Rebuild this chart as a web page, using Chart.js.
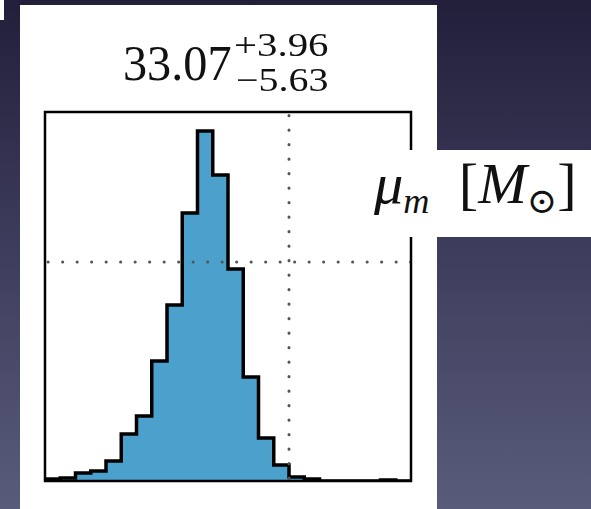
<!DOCTYPE html>
<html>
<head>
<meta charset="utf-8">
<script src="https://cdn.jsdelivr.net/npm/chart.js@4.4.1/dist/chart.umd.min.js"></script>
<style>
  html, body { margin: 0; padding: 0; }
  body {
    width: 591px; height: 509px; overflow: hidden; position: relative;
    background: linear-gradient(to bottom, #221f3b 0%, #3f3d5d 50%, #585c7a 100%);
    font-family: "Liberation Serif", "DejaVu Serif", serif;
  }
  .white { position: absolute; background: #fff; }
  .txt { position: absolute; white-space: nowrap; color: #111; line-height: 1; transform-origin: left top; }
  #lab i { font-style: italic; }
  .sub { font-size: 0.62em; position: relative; top: 0.28em; }
</style>
</head>
<body>
<div class="white" style="left:0;top:0;width:4px;height:20px"></div>
<div class="white" style="left:20px;top:5px;width:417px;height:504px"></div>

<div id="wrap" style="position:absolute;left:20px;top:5px;width:417px;height:504px">
  <canvas id="hist"></canvas>
</div>

<div class="txt" id="tMain" style="left:123px;top:38px;font-size:50px">33.07</div>
<div class="txt" id="tUp" style="left:234px;top:29px;font-size:33px">+3.96</div>
<div class="txt" id="tLo" style="left:236px;top:64px;font-size:33px">−5.63</div>

<div class="white" style="left:355px;top:150px;width:236px;height:87px"></div>
<div class="txt" id="lab" style="left:374px;top:155px;font-size:57px"><i>μ</i><span class="sub"><i>m</i></span>&nbsp;&nbsp;[<i>M</i><span class="sub">⊙</span>]</div>

<script>
// histogram of mu_m samples (bin edges in M_sun, counts)
const binEdges = [11.0, 13.1, 15.2, 17.3, 19.4, 21.5, 23.6, 25.7, 27.8, 29.9, 32.0, 34.1, 36.2,
                  38.3, 40.4, 42.5, 44.6, 46.7, 48.8, 50.9, 53.0, 55.1, 57.2, 59.3, 61.4];
const counts = [2, 3, 8, 10, 20, 47, 65, 120, 176, 268, 350, 306,
                212, 104, 43, 16, 4, 2, 0, 0, 0, 0, 1, 0];
const truthX = 44.6;
const truthY = 219;
const yMax = 369;

// stretch text so it covers the same width as the reference
function fit(id, w) {
    const el = document.getElementById(id);
    el.style.transform = "scaleX(" + (w / el.offsetWidth) + ")";
}
fit("tMain", 109);
fit("tUp", 94);
fit("tLo", 92);
fit("lab", 203);

const steps = [{ x: binEdges[0], y: 0 }];
counts.forEach((c, i) => steps.push({ x: binEdges[i], y: c }));
steps.push({ x: binEdges[binEdges.length - 1], y: counts[counts.length - 1] });

const xMin = binEdges[0], xMax = binEdges[binEdges.length - 1];

const frame = {
    id: "frame",
    afterDraw(chart) {
        const a = chart.chartArea, ctx = chart.ctx;
        ctx.save();
        ctx.strokeStyle = "#000";
        ctx.lineWidth = 2.5;
        ctx.strokeRect(a.left, a.top, a.right - a.left, a.bottom - a.top);
        ctx.restore();
    }
};

const dotted = {
    borderColor: "#555",
    borderWidth: 3,
    borderDash: [0.1, 14.4],
    borderCapStyle: "round",
    pointRadius: 0,
    fill: false,
    order: 1
};

new Chart(document.getElementById("hist"), {
    type: "line",
    data: {
        datasets: [
            Object.assign({ data: [{ x: truthX, y: 0 }, { x: truthX, y: yMax }] }, dotted, { borderDashOffset: 11.7 }),
            Object.assign({ data: [{ x: xMin, y: truthY }, { x: xMax, y: truthY }] }, dotted, { borderDashOffset: 11.4 }),
            {
                data: steps,
                stepped: true,
                fill: "origin",
                backgroundColor: "#4ba0cc",
                borderColor: "#000",
                borderWidth: 3.5,
                pointRadius: 0,
                order: 2
            }
        ]
    },
    options: {
        responsive: true,
        maintainAspectRatio: false,
        animation: false,
        layout: { padding: { left: 25, right: 26, top: 107, bottom: 28 } },
        scales: {
            x: { type: "linear", min: xMin, max: xMax, display: false },
            y: { min: 0, max: yMax, display: false }
        },
        plugins: { legend: { display: false }, tooltip: { enabled: false } }
    },
    plugins: [frame]
});
</script>
</body>
</html>
